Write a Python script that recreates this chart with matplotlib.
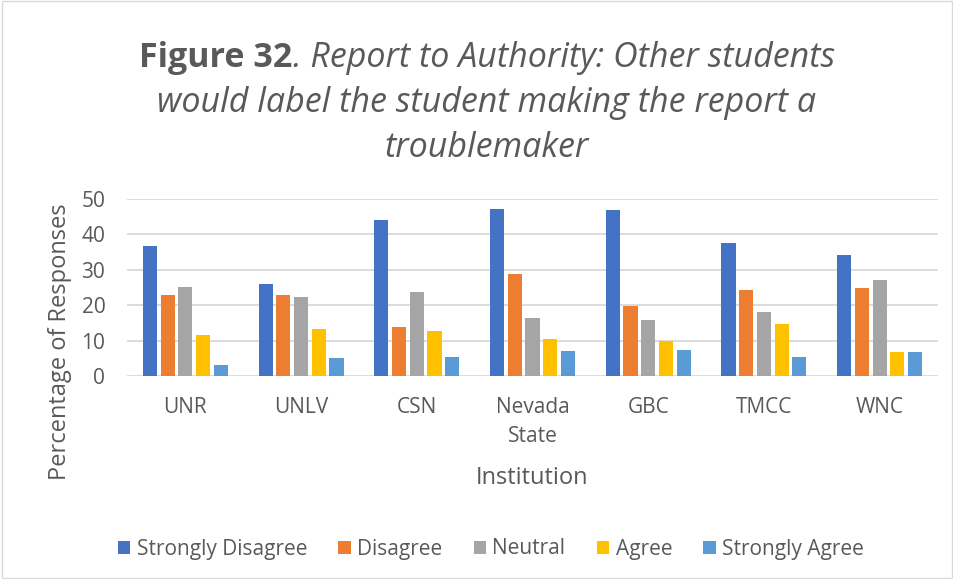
import numpy as np
import matplotlib
matplotlib.use("Agg")
import matplotlib.pyplot as plt

institutions = ["UNR", "UNLV", "CSN", "Nevada\nState", "GBC", "TMCC", "WNC"]
responses = ["Strongly Disagree", "Disagree", "Neutral", "Agree", "Strongly Agree"]
strongly_disagree = [36.8, 26.0, 44.2, 47.1, 46.9, 37.6, 34.1]
disagree = [23.0, 22.9, 13.9, 28.7, 19.7, 24.2, 24.9]
neutral = [25.1, 22.3, 23.6, 16.4, 15.9, 18.0, 27.2]
agree = [11.5, 13.4, 12.7, 10.4, 9.9, 14.6, 6.7]
strongly_agree = [3.0, 5.0, 5.4, 7.0, 7.3, 5.5, 6.7]
yticks = [0, 10, 20, 30, 40, 50]

series = [strongly_disagree, disagree, neutral, agree, strongly_agree]
colors = ["#4472C4", "#ED7D31", "#A5A5A5", "#FFC000", "#5B9BD5"]
txt = "#595959"

plt.rcParams["font.family"] = ["Open Sans", "DejaVu Sans"]

fig = plt.figure(figsize=(9.54, 5.79), dpi=100)
ax = fig.add_axes([127.5 / 954, 1 - 376 / 579, 810 / 954, 177 / 579])

x = np.arange(len(institutions))
pitch = 0.153
for i, (vals, c) in enumerate(zip(series, colors)):
    ax.bar(x + (i - 2) * pitch, vals, width=0.122, color=c, label=responses[i], zorder=3)

ax.set_xlim(-0.5, len(institutions) - 0.5)
ax.set_ylim(0, 50)
ax.set_yticks(yticks)
ax.yaxis.grid(True, color="#D9D9D9", linewidth=1.3, zorder=0)
ax.set_axisbelow(True)
for s in ["top", "right", "left", "bottom"]:
    ax.spines[s].set_visible(False)
ax.tick_params(axis="both", length=0, labelsize=15, labelcolor=txt)
ax.tick_params(axis="y", pad=16)
ax.tick_params(axis="x", pad=15)
ax.set_xticks(x)
ax.set_xticklabels(institutions, linespacing=1.5)

fig.text(532 / 954, 1 - 478 / 579, "Institution", ha="center", va="center", fontsize=17, color=txt)
fig.text(60 / 954, 1 - 342 / 579, "Percentage of Responses", ha="center", va="center",
         rotation=90, fontsize=17, color=txt)

# title, bold and italic parts on the first line
fig.canvas.draw()
r = fig.canvas.get_renderer()
tsize = 24.5
cx = 487 / 954
t1 = fig.text(0, 1 - 58 / 579, "Figure 32", fontsize=tsize, fontweight="bold", color=txt, va="center")
t2 = fig.text(0, 1 - 58 / 579, ". Report to Authority: Other students", fontsize=tsize,
              style="italic", color=txt, va="center")
w1 = t1.get_window_extent(r).width / 954
w2 = t2.get_window_extent(r).width / 954
t1.set_x(cx - (w1 + w2) / 2)
t2.set_x(cx - (w1 + w2) / 2 + w1)
fig.text(cx, 1 - 103 / 579, "would label the student making the report a", fontsize=tsize,
         style="italic", color=txt, ha="center", va="center")
fig.text(cx, 1 - 148 / 579, "troublemaker", fontsize=tsize, style="italic", color=txt,
         ha="center", va="center")

fig.legend(loc="center", bbox_to_anchor=(491 / 954, 1 - 549 / 579), ncol=5, frameon=False,
           fontsize=15, labelcolor=txt, handlelength=0.6, handleheight=0.6,
           handletextpad=0.3, columnspacing=1.5)

fig.patches.append(plt.Rectangle((0.002, 0.002), 0.996, 0.996, transform=fig.transFigure,
                                 fill=False, edgecolor="#D9D9D9", linewidth=1))

fig.savefig("out.png", dpi=100)
